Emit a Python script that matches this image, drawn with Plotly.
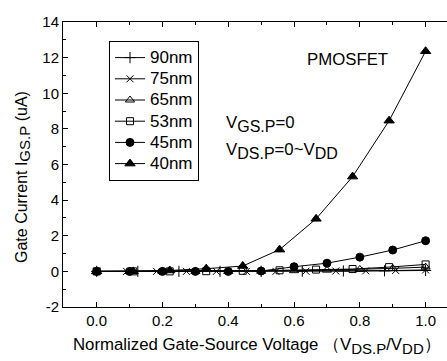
import plotly.graph_objects as go

# ---- data ----
x_90 = [0.0, 0.125, 0.25, 0.375, 0.5, 0.625, 0.75, 0.875, 1.0]
y_90 = [0.0, 0.0, 0.0, 0.0, 0.0, 0.01, 0.02, 0.03, 0.05]

x_75 = [0.0, 0.091, 0.182, 0.273, 0.364, 0.455, 0.545, 0.636, 0.727, 0.818, 0.909, 1.0]
y_75 = [0.0, 0.0, 0.0, 0.0, 0.0, 0.0, 0.0, 0.01, 0.02, 0.03, 0.05, 0.08]

x_65 = [0.0, 0.1, 0.2, 0.3, 0.4, 0.5, 0.6, 0.7, 0.8, 0.9, 1.0]
y_65 = [0.0, 0.0, 0.0, 0.0, 0.0, 0.01, 0.04, 0.07, 0.11, 0.17, 0.24]

x_53 = [0.0, 0.111, 0.222, 0.333, 0.444, 0.556, 0.667, 0.778, 0.889, 1.0]
y_53 = [0.0, 0.0, 0.0, 0.01, 0.03, 0.06, 0.1, 0.13, 0.24, 0.39]

x_45 = [0.0, 0.1, 0.2, 0.3, 0.4, 0.5, 0.6, 0.7, 0.8, 0.9, 1.0]
y_45 = [0.0, 0.0, 0.0, 0.0, 0.0, 0.02, 0.26, 0.46, 0.8, 1.2, 1.72]

x_40 = [0.0, 0.111, 0.222, 0.333, 0.444, 0.556, 0.667, 0.778, 0.889, 1.0]
y_40 = [0.0, 0.0, 0.05, 0.15, 0.3, 1.22, 2.95, 5.32, 8.46, 12.36]

x_ticks = [0.0, 0.2, 0.4, 0.6, 0.8, 1.0]
x_tick_labels = ["0.0", "0.2", "0.4", "0.6", "0.8", "1.0"]
y_ticks = [-2, 0, 2, 4, 6, 8, 10, 12, 14]
y_tick_labels = ["-2", "0", "2", "4", "6", "8", "10", "12", "14"]

series = [
    ("90nm", x_90, y_90, "cross-thin-open", 8),
    ("75nm", x_75, y_75, "x-thin-open", 7),
    ("65nm", x_65, y_65, "triangle-up-open", 8),
    ("53nm", x_53, y_53, "square-open", 7),
    ("45nm", x_45, y_45, "circle", 8),
    ("40nm", x_40, y_40, "triangle-up", 9),
]

FONT = "Arial, 'Liberation Sans', sans-serif"
L, R, T, B = 63, 0, 22, 54
W, H = 447 - L - R, 361 - T - B


def sub(s, size=15):
    return '<sub><span style="font-size:%dpx">%s</span></sub>' % (size, s)


def px2paper(px, py):
    return (px - L) / W, (361 - B - py) / H


fig = go.Figure()
for name, xs, ys, sym, sz in series:
    fig.add_trace(go.Scatter(
        x=xs, y=ys, name='<span style="font-size:17px">%s</span>' % name,
        mode="lines+markers",
        line=dict(color="black", width=1),
        marker=dict(symbol=sym, size=sz, color="black",
                    line=dict(color="black", width=1)),
    ))

lx, ly = px2paper(109, 41)
fig.update_layout(
    width=447, height=361,
    margin=dict(l=L, r=R, t=T, b=B),
    paper_bgcolor="white", plot_bgcolor="white",
    font=dict(family=FONT, size=15, color="black"),
    showlegend=True,
    legend=dict(
        x=lx, y=ly, xanchor="left", yanchor="top",
        bordercolor="black", borderwidth=1, bgcolor="white",
        font=dict(size=14), tracegroupgap=0, itemwidth=30,
    ),
    xaxis=dict(
        range=[-0.1024, 1.065],
        tickvals=x_ticks, ticktext=x_tick_labels,
        ticks="inside", ticklen=5, tickwidth=1, tickcolor="black",
        showline=True, linecolor="black", linewidth=1, mirror="ticks",
        showgrid=False, zeroline=False,
        tickfont=dict(size=15),
        minor=dict(dtick=0.1, tick0=0, ticks="inside", ticklen=3, tickcolor="black", showgrid=False),
    ),
    yaxis=dict(
        range=[-2, 14],
        tickvals=y_ticks, ticktext=y_tick_labels,
        ticks="inside", ticklen=5, tickwidth=1, tickcolor="black",
        showline=True, linecolor="black", linewidth=1, mirror=False,
        showgrid=False, zeroline=False,
        tickfont=dict(size=15),
        minor=dict(dtick=1, tick0=0, ticks="inside", ticklen=3, tickcolor="black", showgrid=False),
    ),
)

texts = [
    # text, px x, px y, anchor, size, angle
    ("PMOSFET", 305, 60, "left", 16.8, 0),
    ("V" + sub("GS.P", 16) + "=0", 224, 124, "left", 16.8, 0),
    ("V" + sub("DS.P", 16) + "=0~V" + sub("DD", 16), 224, 151, "left", 16.8, 0),
    ("Normalized Gate-Source Voltage \uff08V" + sub("DS.P", 15) + "/V" + sub("DD", 15) + "\uff09",
     71, 346, "left", 16.8, 0),
    ("Gate Current I" + sub("GS.P", 15) + " (uA)", 23, 177, "center", 16, -90),
]
anns = []
for t, px, py, anc, sz, ang in texts:
    ax, ay = px2paper(px, py)
    anns.append(dict(text=t, showarrow=False, xref="paper", yref="paper",
                     x=ax, y=ay, xanchor=anc, yanchor="middle",
                     textangle=ang, font=dict(size=sz)))
fig.update_layout(annotations=anns)

fig.write_html("out.html")
